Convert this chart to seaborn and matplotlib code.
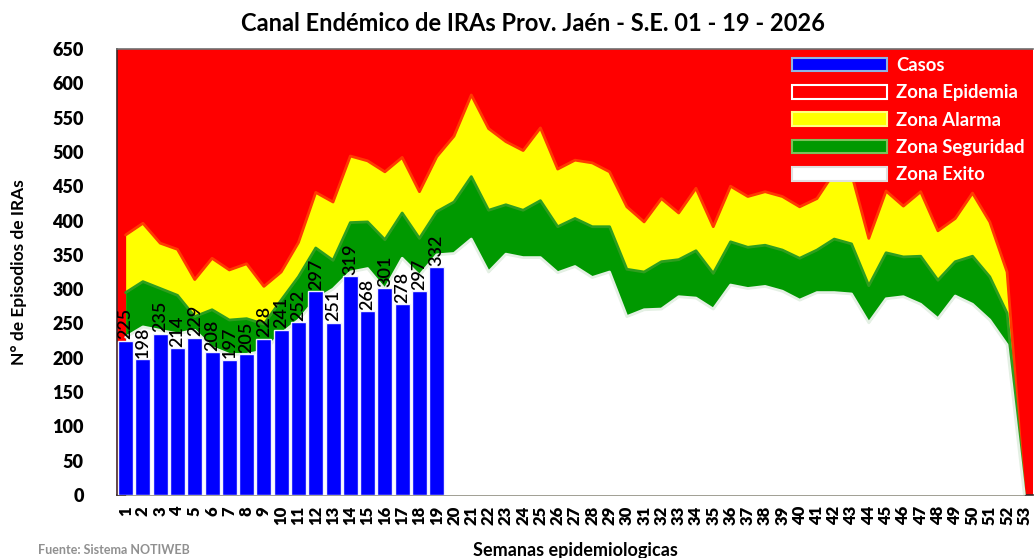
import numpy as np
import pandas as pd
import matplotlib
matplotlib.use("Agg")
import matplotlib.pyplot as plt
import matplotlib.patches as mpatches
import seaborn as sns

# ---------------- data ----------------
weeks = list(range(1, 54))
casos = [225, 198, 235, 214, 229, 208, 197, 205, 228, 241, 252, 297, 251, 319,
         268, 301, 278, 297, 332]
zona_alarma = [379, 396, 367, 358, 314, 345, 328, 337, 304, 325, 368, 441, 427, 494,
               487, 471, 492, 442, 493, 523, 583, 534, 515, 502, 535, 475, 488, 484,
               471, 420, 398, 432, 411, 447, 391, 450, 435, 442, 435, 420, 432, 470,
               468, 374, 443, 421, 442, 385, 403, 440, 398, 325, 0]
zona_seguridad = [295, 311, 301, 291, 260, 270, 255, 257, 249, 284, 318, 360, 342, 397,
                  398, 372, 411, 374, 413, 427, 464, 415, 423, 415, 429, 391, 403, 391,
                  391, 329, 325, 340, 343, 356, 323, 369, 361, 364, 357, 345, 357, 373,
                  366, 305, 353, 347, 348, 313, 340, 348, 318, 265, 0]
zona_exito = [230, 245, 240, 235, 240, 215, 205, 205, 210, 235, 255, 285, 300, 325,
              330, 300, 345, 320, 350, 352, 373, 325, 351, 346, 346, 324, 333, 317,
              325, 260, 270, 271, 289, 287, 271, 306, 301, 304, 297, 284, 295, 295,
              293, 251, 286, 289, 278, 257, 290, 278, 255, 219, 0]
y_ticks = list(range(0, 651, 50))

title = "Canal Endémico de IRAs Prov. Jaén - S.E. 01 - 19 - 2026"
xlabel = "Semanas epidemiologicas"
ylabel = "N° de Episodios de IRAs"
legend_labels = ["Casos", "Zona Epidemia", "Zona Alarma", "Zona Seguridad", "Zona Exito"]
fuente = "Fuente: Sistema NOTIWEB"

# ---------------- style ----------------
sns.set_theme(style="white")
plt.rcParams["font.family"] = ["Lato", "DejaVu Sans"]
plt.rcParams["text.color"] = "black"
plt.rcParams["axes.labelcolor"] = "black"
plt.rcParams["xtick.color"] = "black"
plt.rcParams["ytick.color"] = "black"

RED = "#FF0000"
YELLOW = "#FFFF00"
GREEN = "#009900"
BLUE = "#0000FF"

fig = plt.figure(figsize=(10.35, 5.58), dpi=100)
ax = fig.add_axes([117 / 1035, (558 - 495) / 558, (1033 - 117) / 1035, (495 - 49) / 558])
ax.set_facecolor(RED)

w = np.array(weeks)
ax.fill_between(w, 0, zona_alarma, color=YELLOW, linewidth=0, zorder=1)
ax.fill_between(w, 0, zona_seguridad, color=GREEN, linewidth=0, zorder=2)
ax.fill_between(w, 0, zona_exito, color="white", linewidth=0, zorder=3)

sns.lineplot(x=weeks, y=zona_alarma, color="#FF3A00", linewidth=2, ax=ax, zorder=1.5, legend=False)
sns.lineplot(x=weeks, y=zona_seguridad, color="#2E9E1E", linewidth=2, ax=ax, zorder=2.5, legend=False)
sns.lineplot(x=weeks, y=zona_exito, color="#E4F0E4", linewidth=2, ax=ax, zorder=3.5, legend=False)

df = pd.DataFrame({"semana": weeks[:len(casos)], "casos": casos})
sns.barplot(data=df, x="semana", y="casos", native_scale=True, color=BLUE, saturation=1,
            width=0.87, edgecolor="#F0F0FF", linewidth=1, errorbar=None, ax=ax, zorder=4)

for wk, v in zip(df["semana"], df["casos"]):
    ax.text(wk, v + 2, str(v), rotation=90, ha="center", va="bottom",
            fontsize=13, fontweight="semibold", color="black", zorder=6)

ax.set_xlim(0.5, 53.5)
ax.set_ylim(0, 650)
ax.set_xticks(weeks)
ax.set_xticklabels([str(x) for x in weeks], rotation=90, fontsize=12, fontweight="heavy")
ax.set_yticks(y_ticks)
ax.set_yticklabels([str(t) for t in y_ticks], fontsize=13, fontweight="heavy")
ax.tick_params(axis="both", length=0)
ax.tick_params(axis="y", pad=24)
ax.tick_params(axis="x", pad=8)
ax.set_xlabel(xlabel, fontsize=13, fontweight="bold", labelpad=12)
ax.set_ylabel(ylabel, fontsize=12.5, fontweight="bold", labelpad=18)
for s in ax.spines.values():
    s.set_visible(True)
    s.set_color("#3A2A2A")
    s.set_linewidth(1.2)
ax.spines["right"].set_visible(False)
ax.spines["top"].set_color("#707070")

fig.suptitle(title, fontsize=17, fontweight="bold", x=0.515, y=0.978, color="black")

handles = [
    mpatches.Patch(facecolor=BLUE, edgecolor="#8EB4E3", linewidth=1.5),
    mpatches.Patch(facecolor=RED, edgecolor="white", linewidth=1.5),
    mpatches.Patch(facecolor=YELLOW, edgecolor="#FFFF80", linewidth=1.5),
    mpatches.Patch(facecolor=GREEN, edgecolor="#7CC05A", linewidth=1.5),
    mpatches.Patch(facecolor="white", edgecolor="#E0E0E0", linewidth=1.5),
]
leg = fig.legend(handles, legend_labels, loc="upper left",
                 bbox_to_anchor=(792 / 1035, 1 - 57 / 558), frameon=False,
                 prop={"size": 13.3, "weight": "bold"}, handlelength=5.15, handleheight=0.76,
                 labelspacing=0.56, handletextpad=0.5, borderpad=0, borderaxespad=0)
for t in leg.get_texts():
    t.set_color("white")

fig.text(38 / 1035, 1.5 / 558, fuente, fontsize=9, fontweight="bold",
         color="#909090", va="bottom", ha="left")

fig.savefig("out.png", dpi=100)
